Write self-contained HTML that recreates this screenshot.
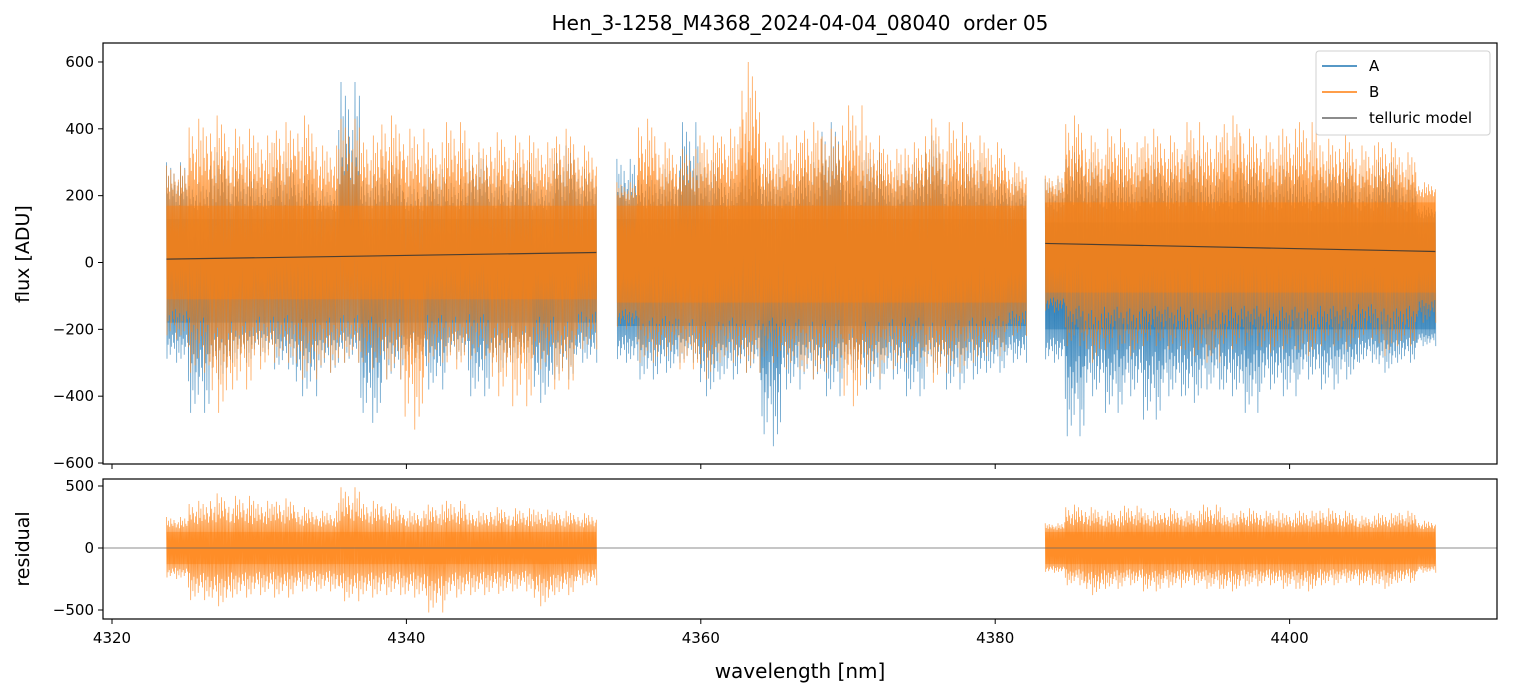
<!DOCTYPE html>
<html><head><meta charset="utf-8"><style>
body{margin:0;background:#fff;}
svg{display:block;font-family:"DejaVu Sans","Liberation Sans",sans-serif;}
</style></head><body>
<svg id="c" width="1513" height="696"></svg>
<script>
// ---- data ----
const segments = [[4323.7, 4352.9], [4354.3, 4382.1], [4383.4, 4409.9]];
const tellStart = [10, null, 57];
const tellEnd = [30, null, 33];
const aHi = [
 [300,240,330,280,250,300,260,220,540,260,300,230,280,250,330,260,300,240,350,280],
 [310,260,280,420,300,250,330,280,260,300,420,300,330,260,300,380,280,300,260,240],
 [250,330,300,280,260,300,280,320,260,280,300,270,290,260,280,300,260,300,250,170]];
const aLo = [
 [-300,-450,-350,-300,-280,-320,-400,-330,-300,-480,-350,-300,-380,-290,-400,-330,-300,-420,-350,-300],
 [-300,-350,-330,-300,-400,-350,-330,-550,-380,-350,-400,-330,-380,-350,-400,-330,-380,-350,-330,-300],
 [-300,-520,-400,-450,-400,-470,-400,-420,-380,-400,-450,-380,-400,-350,-380,-350,-300,-330,-300,-250]];
const bHi = [
 [290,430,440,400,380,420,440,350,430,380,440,400,360,420,360,390,380,360,400,350],
 [240,430,360,340,380,400,600,360,380,420,400,470,380,340,360,430,420,380,360,300],
 [260,440,380,400,360,400,380,420,380,440,400,380,400,420,370,380,350,360,330,240]];
const bLo = [
 [-230,-330,-450,-380,-320,-300,-350,-330,-300,-320,-350,-500,-300,-320,-290,-400,-430,-320,-380,-260],
 [-200,-300,-280,-320,-350,-300,-330,-300,-320,-350,-330,-430,-350,-320,-300,-360,-330,-300,-280,-220],
 [-150,-250,-300,-260,-280,-250,-260,-280,-300,-260,-250,-270,-260,-280,-250,-260,-230,-280,-250,-180]];
const aCore = [[-180,130],[-190,130],[-200,120]];
const bCore = [[-110,170],[-120,170],[-90,180]];
const rHi = [
 [250,380,440,420,380,400,330,300,490,380,360,300,350,380,300,330,320,310,300,280], null,
 [200,350,330,300,340,300,320,300,350,280,320,300,280,300,320,300,260,280,300,220]];
const rLo = [
 [-250,-420,-470,-400,-380,-400,-350,-350,-430,-400,-380,-400,-520,-400,-380,-370,-350,-470,-380,-300], null,
 [-200,-300,-380,-330,-300,-350,-320,-300,-330,-350,-310,-300,-330,-350,-300,-280,-300,-330,-280,-200]];
const rCore = [-130,130];
const xTicks = [4320, 4340, 4360, 4380, 4400];
const yTicks = [-600, -400, -200, 0, 200, 400, 600];
const rTicks = [-500, 0, 500];

// ---- axes ----
const L=103,R=1497,T1=43,B1=464,T2=479,B2=619;
const X = w => 112 + (w-4320)*14.72;
const Y = v => 262.5 - v*0.3342;
const YR = v => 548 - v*0.124;
const NS='http://www.w3.org/2000/svg', svg=document.getElementById('c');
function el(tag, attrs, parent){const e=document.createElementNS(NS,tag);for(const k in attrs)e.setAttribute(k,attrs[k]);(parent||svg).appendChild(e);return e;}
function txt(s,attrs,parent){const e=el('text',attrs,parent);e.textContent=s;return e;}

const pat=[1,0.45,0.75,0.35,0.9,0.55,0.4,0.8,0.6,0.3,0.5,0.65,0.25];
function noise(g, seg, hi, lo, core, yf, color, op){
  const [w0,w1]=segments[seg]; const n=hi.length;
  const band=el('rect',{x:X(w0),y:yf(core[1]),width:X(w1)-X(w0),height:yf(core[0])-yf(core[1]),fill:color,opacity:op*0.6},g);
  
  
  let d='';
  const sub=20;
  for(let i=0;i<n;i++){
    for(let k=0;k<sub;k++){
      const w=w0+(w1-w0)*(i*sub+k)/(n*sub-1);
      const f=pat[(i*3+k)%pat.length];
      const h=core[1]+(hi[i]-core[1])*f, l=core[0]+(lo[i]-core[0])*pat[(i*7+k+4)%pat.length];
      d+=(d?'L':'M')+X(w).toFixed(1)+','+yf(h).toFixed(1)+'L'+X(w+(w1-w0)/(n*sub*2)).toFixed(1)+','+yf(l).toFixed(1);
    }
  }
  const p=el('path',{d:d,fill:'none',stroke:color,'stroke-width':0.7,opacity:op},g);
  
  
}

txt('Hen_3-1258_M4368_2024-04-04_08040  order 05',{x:800,y:30,'text-anchor':'middle','font-size':20,'xml:space':'preserve',style:'white-space:pre'});

// top panel
const gA=el('g',{});
const gB=el('g',{});
for(let s=0;s<3;s++){ noise(gA,s,aHi[s],aLo[s],aCore[s],Y,'#1f77b4',0.8); }
for(let s=0;s<3;s++){ noise(gB,s,bHi[s],bLo[s],bCore[s],Y,'#ff7f0e',0.8); }
for(let s=0;s<3;s++){ if(tellStart[s]===null)continue;
  const t=el('line',{x1:X(segments[s][0]),y1:Y(tellStart[s]),x2:X(segments[s][1]),y2:Y(tellEnd[s]),stroke:'#333',opacity:0.85,'stroke-width':1.2});
  }
el('rect',{x:L,y:T1,width:R-L,height:B1-T1,fill:'none',stroke:'#000','stroke-width':1.2});
yTicks.forEach(v=>{el('line',{x1:L-5,y1:Y(v),x2:L,y2:Y(v),stroke:'#000'});
  txt(v<0?'\u2212'+(-v):String(v),{x:L-9,y:Y(v)+5,'text-anchor':'end','font-size':15});});
xTicks.forEach(v=>el('line',{x1:X(v),y1:B1,x2:X(v),y2:B1+5,stroke:'#000'}));
txt('flux [ADU]',{x:0,y:0,transform:'translate(29,254) rotate(-90)','text-anchor':'middle','font-size':19});

// legend
const lg=el('g',{});
el('rect',{x:1316,y:51,width:174,height:84,rx:3,fill:'#fff',stroke:'#ccc',opacity:0.9},lg);
[['A','#1f77b4',66],['B','#ff7f0e',92],['telluric model','#666',118]].forEach(([n,c,y])=>{
  el('line',{x1:1322,y1:y,x2:1357,y2:y,stroke:c,'stroke-width':1.6},lg);
  txt(n,{x:1369,y:y+5,'font-size':15},lg);});

// residual panel
const gR=el('g',{});
for(let s=0;s<3;s++){ if(!rHi[s])continue; noise(gR,s,rHi[s],rLo[s],rCore,YR,'#ff7f0e',0.8); }
el('line',{x1:L,y1:YR(0),x2:R,y2:YR(0),stroke:'#666','stroke-width':0.8});
el('rect',{x:L,y:T2,width:R-L,height:B2-T2,fill:'none',stroke:'#000','stroke-width':1.2});
rTicks.forEach(v=>{el('line',{x1:L-5,y1:YR(v),x2:L,y2:YR(v),stroke:'#000'});
  txt(v<0?'\u2212'+(-v):String(v),{x:L-9,y:YR(v)+5,'text-anchor':'end','font-size':15});});
xTicks.forEach(v=>{el('line',{x1:X(v),y1:B2,x2:X(v),y2:B2+5,stroke:'#000'});
  txt(String(v),{x:X(v),y:B2+24,'text-anchor':'middle','font-size':15});});
txt('residual',{x:0,y:0,transform:'translate(29,549) rotate(-90)','text-anchor':'middle','font-size':19});
txt('wavelength [nm]',{x:800,y:678,'text-anchor':'middle','font-size':20});
</script>
</body></html>
